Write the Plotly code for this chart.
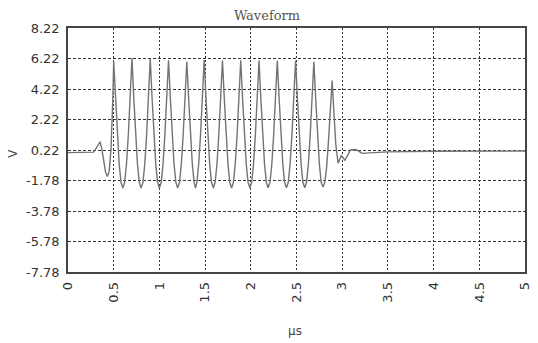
import plotly.graph_objects as go

# Waveform samples (time in µs, voltage in V)
time_us = [
    0.00, 0.10, 0.20, 0.28, 0.31, 0.35, 0.37, 0.39, 0.41, 0.43, 0.45, 0.47, 0.48, 0.49,
    0.50, 0.52, 0.54, 0.56, 0.58, 0.60,
    0.62, 0.64, 0.66, 0.68, 0.70, 0.72, 0.74, 0.76, 0.78, 0.80,
    0.82, 0.84, 0.86, 0.88, 0.90, 0.92, 0.94, 0.96, 0.98, 1.00,
    1.02, 1.04, 1.06, 1.08, 1.10, 1.12, 1.14, 1.16, 1.18, 1.20,
    1.22, 1.24, 1.26, 1.28, 1.30, 1.32, 1.34, 1.36, 1.38, 1.395,
    1.41, 1.43, 1.45, 1.47, 1.49, 1.51, 1.53, 1.55, 1.57, 1.59,
    1.61, 1.63, 1.65, 1.67, 1.69, 1.71, 1.73, 1.75, 1.77, 1.79,
    1.81, 1.83, 1.85, 1.87, 1.89, 1.91, 1.93, 1.95, 1.97, 1.99,
    2.01, 2.03, 2.05, 2.07, 2.09, 2.11, 2.13, 2.15, 2.17, 2.19,
    2.21, 2.23, 2.25, 2.27, 2.29, 2.31, 2.33, 2.35, 2.37, 2.39,
    2.41, 2.43, 2.45, 2.47, 2.49, 2.51, 2.53, 2.55, 2.57, 2.59,
    2.61, 2.63, 2.65, 2.67, 2.69, 2.71, 2.73, 2.75, 2.77, 2.79,
    2.81, 2.83, 2.85, 2.87, 2.89, 2.91, 2.93, 2.955, 2.99, 3.03,
    3.09, 3.15, 3.22, 3.30, 3.50, 4.00, 4.50, 5.00,
]
volts = [
    0.05, 0.05, 0.05, 0.08, 0.35, 0.76, 0.30, -0.50, -1.20, -1.52, -1.20, 0.20, 1.50, 3.50,
    6.00, 3.60, 1.20, -0.70, -1.90, -2.28,
    -1.90, -0.70, 1.20, 3.60, 6.25, 3.60, 1.20, -0.70, -1.90, -2.28,
    -1.90, -0.70, 1.20, 3.60, 6.20, 3.60, 1.20, -0.70, -1.90, -2.28,
    -1.90, -0.70, 1.20, 3.60, 6.10, 3.60, 1.20, -0.70, -1.90, -2.27,
    -1.90, -0.70, 1.20, 3.60, 6.00, 3.60, 1.20, -0.70, -1.90, -2.27,
    -1.90, -0.70, 1.20, 3.60, 6.12, 3.60, 1.20, -0.70, -1.90, -2.27,
    -1.90, -0.70, 1.20, 3.60, 6.10, 3.60, 1.20, -0.70, -1.90, -2.27,
    -1.90, -0.70, 1.20, 3.60, 6.10, 3.60, 1.20, -0.70, -1.90, -2.27,
    -1.90, -0.70, 1.20, 3.60, 6.08, 3.60, 1.20, -0.70, -1.90, -2.25,
    -1.90, -0.70, 1.20, 3.60, 6.08, 3.60, 1.20, -0.70, -1.90, -2.25,
    -1.90, -0.70, 1.20, 3.60, 6.08, 3.60, 1.20, -0.70, -1.90, -2.25,
    -1.90, -0.70, 1.20, 3.60, 6.00, 3.60, 1.20, -0.70, -1.90, -2.20,
    -1.90, -0.90, 0.80, 2.80, 4.78, 2.60, 0.60, -0.65, -0.15, -0.45,
    0.22, 0.25, 0.00, 0.03, 0.10, 0.14, 0.15, 0.15,
]

x_ticks = [0, 0.5, 1, 1.5, 2, 2.5, 3, 3.5, 4, 4.5, 5]
x_tick_labels = ["0", "0.5", "1", "1.5", "2", "2.5", "3", "3.5", "4", "4.5", "5"]
y_ticks = [-7.78, -5.78, -3.78, -1.78, 0.22, 2.22, 4.22, 6.22, 8.22]
y_tick_labels = ["-7.78", "-5.78", "-3.78", "-1.78", "0.22", "2.22", "4.22", "6.22", "8.22"]

fig = go.Figure()
fig.add_trace(go.Scatter(
    x=time_us, y=volts, mode="lines",
    line=dict(color="#747474", width=1.4),
    showlegend=False, hoverinfo="skip",
))

fig.update_layout(
    width=538, height=343,
    margin=dict(l=68, r=6, t=28, b=71),
    paper_bgcolor="white", plot_bgcolor="white",
    font=dict(family="DejaVu Sans", size=13, color="#333333"),
    title=dict(text="Waveform", x=267 / 538, xanchor="center", xref="container",
               y=1 - 15 / 343, yref="container", yanchor="middle",
               font=dict(family="DejaVu Serif", size=13, color="#555555")),
    xaxis=dict(
        range=[0, 5], tickmode="array", tickvals=x_ticks, ticktext=x_tick_labels,
        tickangle=-90, showgrid=True, gridcolor="#333333", gridwidth=1, griddash="2px,2px",
        showline=True, linecolor="#444444", linewidth=1.5, mirror=True,
        zeroline=False, ticks="", ticklabelstandoff=3,
        tickfont=dict(family="DejaVu Sans", size=13, color="#333333"),
    ),
    yaxis=dict(
        range=[-7.78, 8.22], tickmode="array", tickvals=y_ticks, ticktext=y_tick_labels,
        showgrid=True, gridcolor="#333333", gridwidth=1, griddash="3px,2px",
        showline=True, linecolor="#444444", linewidth=1.5, mirror=True,
        zeroline=False, ticks="", ticklabelstandoff=4,
        tickfont=dict(family="DejaVu Sans", size=13, color="#333333"),
    ),
    annotations=[
        dict(text="V", xref="paper", yref="paper", x=-56 / 464, y=(272 - 153) / 244,
             xanchor="center", yanchor="middle", showarrow=False, textangle=-90,
             font=dict(family="DejaVu Sans", size=12, color="#444444")),
        dict(text="µs", xref="paper", yref="paper", x=(298 - 68) / 464, y=-(331 - 272) / 244,
             xanchor="center", yanchor="middle", showarrow=False,
             font=dict(family="DejaVu Sans", size=12, color="#444444")),
    ],
)

fig.write_html(
    "out.html",
    config={"displayModeBar": False},
    post_script="document.body.style.margin='0';document.body.style.overflow='hidden';",
)
